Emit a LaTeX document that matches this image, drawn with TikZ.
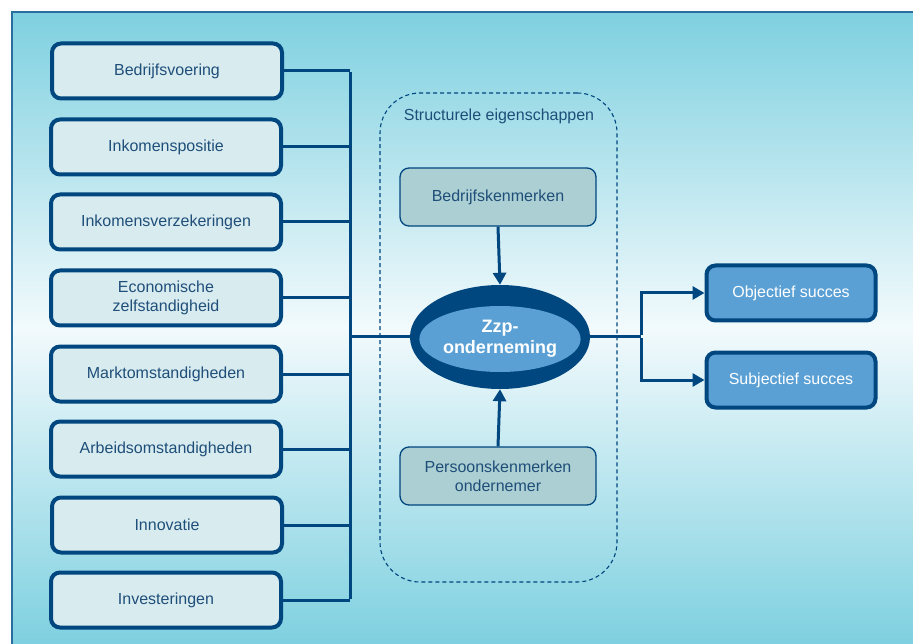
\documentclass[tikz,border=0pt]{standalone}
\usepackage{fontspec}
\setmainfont{Liberation Sans}
\usetikzlibrary{shapes.geometric,arrows.meta}
\definecolor{darkb}{HTML}{00467F}
\definecolor{txtb}{HTML}{1F4E79}
\definecolor{leftfill}{HTML}{D8ECF0}
\definecolor{midfill}{HTML}{ABCFD2}
\definecolor{lightb}{HTML}{5AA0D4}
\definecolor{bgtop}{HTML}{7ED0E0}
\definecolor{bgmid}{HTML}{F2FAFC}
\definecolor{frame}{HTML}{2A6E9E}
\tikzset{
  leftbox/.style={draw=darkb, line width=4pt, fill=leftfill, rounded corners=9pt,
    minimum width=230pt, minimum height=55pt, text=txtb, align=center,
    font=\fontsize{16}{19}\selectfont},
  midbox/.style={draw=darkb, line width=1.3pt, fill=midfill, rounded corners=9pt,
    minimum width=196pt, minimum height=58pt, text=txtb, align=center,
    font=\fontsize{16}{19}\selectfont},
  rightbox/.style={draw=darkb, line width=4pt, fill=lightb, rounded corners=9pt,
    minimum width=169pt, minimum height=55pt, text=white, align=center,
    font=\fontsize{16}{19}\selectfont},
  conn/.style={draw=darkb, line width=3pt},
  arr/.style={draw=darkb, line width=3pt, -{Triangle[length=12pt,width=13pt]}},
}
\begin{document}
\begin{tikzpicture}[x=1pt,y=-1pt]
\useasboundingbox (0,0) rectangle (913,644);
% background panel
\shade[top color=bgtop, bottom color=bgtop, middle color=bgmid] (12,12) rectangle (913,644);
\draw[frame, line width=1.5pt] (12,644) -- (12,12) -- (913,12);

% left boxes
\node[leftbox] (b1) at (167,71) {Bedrijfsvoering};
\node[leftbox] (b2) at (166,147) {Inkomenspositie};
\node[leftbox] (b3) at (166,222) {Inkomensverzekeringen};
\node[leftbox] (b4) at (166,298) {Economische\\zelfstandigheid};
\node[leftbox] (b5) at (166,374) {Marktomstandigheden};
\node[leftbox] (b6) at (166,449) {Arbeidsomstandigheden};
\node[leftbox] (b7) at (167,525) {Innovatie};
\node[leftbox] (b8) at (166,600) {Investeringen};

% structural container
\node[draw=darkb, dashed, dash pattern=on 4pt off 3pt, line width=1.1pt, rounded corners=40pt,
  minimum width=237pt, minimum height=489pt] (struct) at (498.5,337.5) {};
\node[text=txtb, font=\fontsize{16}{19}\selectfont] (structlbl) at (499,116) {Structurele eigenschappen};

\node[midbox] (bk) at (498,197) {Bedrijfskenmerken};
\node[midbox] (pk) at (498,476) {Persoonskenmerken\\ondernemer};

% central ellipse
\node[ellipse, fill=darkb, minimum width=180pt, minimum height=104pt] (zzp) at (500,337) {};
\node[ellipse, fill=lightb, minimum width=144pt, minimum height=66pt, text=white, align=center,
  font=\bfseries\fontsize{18}{21}\selectfont, inner sep=0pt] (zzpin) at (500,339) {Zzp-\\onderneming};

% right boxes
\node[rightbox] (obj) at (791,293) {Objectief succes};
\node[rightbox] (subj) at (791,380) {Subjectief succes};

% bus connectors
\coordinate (bus) at (350,0);
\foreach \b in {b1,b2,b3,b4,b5,b6,b7,b8}{
  \draw[conn] (\b.east) -- (\b.east -| bus);
}
\draw[conn] ([yshift=-1.5pt]b1.east -| bus) -- ([yshift=1.5pt]b8.east -| bus);
\draw[conn] (bus |- zzp) -- (zzp.west);

% vertical arrows
\draw[arr] (bk.south) -- (zzp.north);
\draw[arr] (pk.north) -- (zzp.south);

% right split
\coordinate (split) at (641,337);
\draw[conn] (zzp.east) -- (split);
\draw[arr] ([yshift=1.5pt]split) |- (obj.west);
\draw[arr] ([yshift=-1.5pt]split) |- (subj.west);
\end{tikzpicture}
\end{document}
